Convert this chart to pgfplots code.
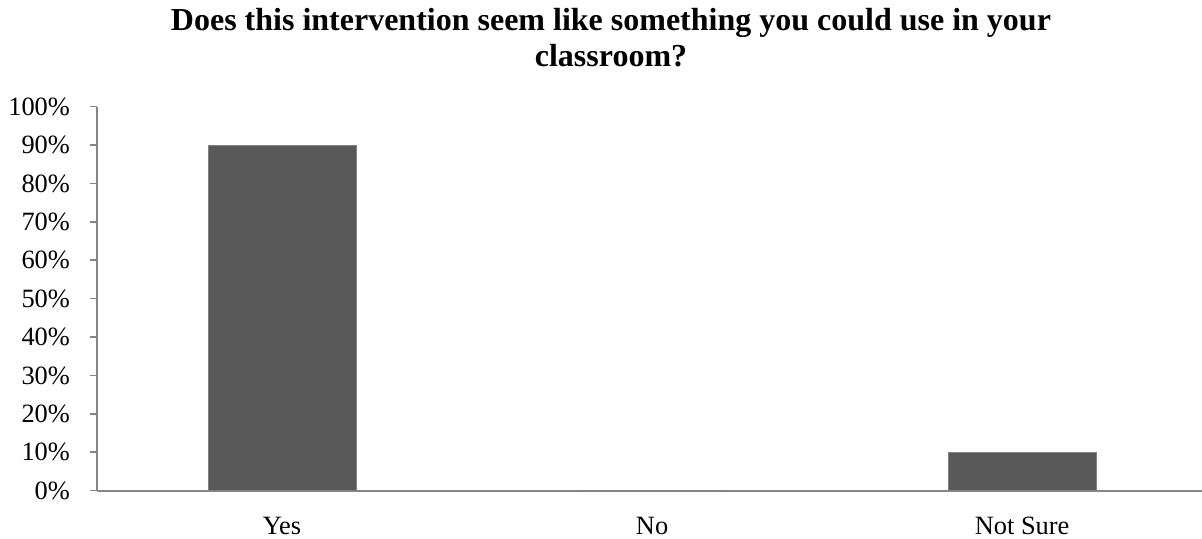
\documentclass[border=0pt]{standalone}
\usepackage{fontspec}
\setmainfont{Liberation Serif}
\usepackage{pgfplots}
\pgfplotsset{compat=1.18}
\definecolor{barc}{HTML}{595959}
\definecolor{axc}{HTML}{868686}
\begin{document}
\begin{tikzpicture}
\begin{axis}[
  name=ax,
  scale only axis,
  width=552.5pt, height=192pt,
  xmin=-0.5, xmax=2.486,
  ymin=0, ymax=100,
  ytick={0,10,...,100},
  yticklabel={\pgfmathprintnumber{\tick}\%},
  /pgf/number format/assume math mode=true,
  xtick={0,1,2},
  xticklabels={Yes,No,Not Sure},
  major x tick style={draw=none},
  extra x ticks={-0.5,0.5,1.5,2.5},
  extra x tick labels={},
  extra x tick style={tick style={draw=axc, line width=0.8pt}, major tick length=3.5pt, tick align=outside},
  tick align=outside,
  major tick length=3.5pt,
  y tick style={draw=axc, line width=0.8pt},
  axis x line*=bottom,
  axis y line*=left,
  axis line style={draw=axc, line width=0.9pt, -},
  tick label style={font=\fontsize{13.2}{15}\selectfont, text=black},
  yticklabel style={xshift=-6.5pt},
  xticklabel style={yshift=-6pt},
  ybar, bar width=74pt,
  clip=false,
]
\addplot[fill=barc, draw=barc!75!white, line width=0.5pt] coordinates {(0,90) (1,0) (2,10)};
\end{axis}
\pgfresetboundingbox
\path[use as bounding box] ([xshift=-48.5pt,yshift=-24.15pt]ax.south west) rectangle ([xshift=601pt-48.5pt,yshift=245.35pt]ax.south west);
\node[font=\bfseries\fontsize{16}{18}\selectfont, anchor=base] at ([xshift=257pt,yshift=229.85pt]ax.south west) {Does this intervention seem like something you could use in your};
\node[font=\bfseries\fontsize{16}{18}\selectfont, anchor=base] at ([xshift=257pt,yshift=211.85pt]ax.south west) {classroom?};
\end{tikzpicture}
\end{document}
